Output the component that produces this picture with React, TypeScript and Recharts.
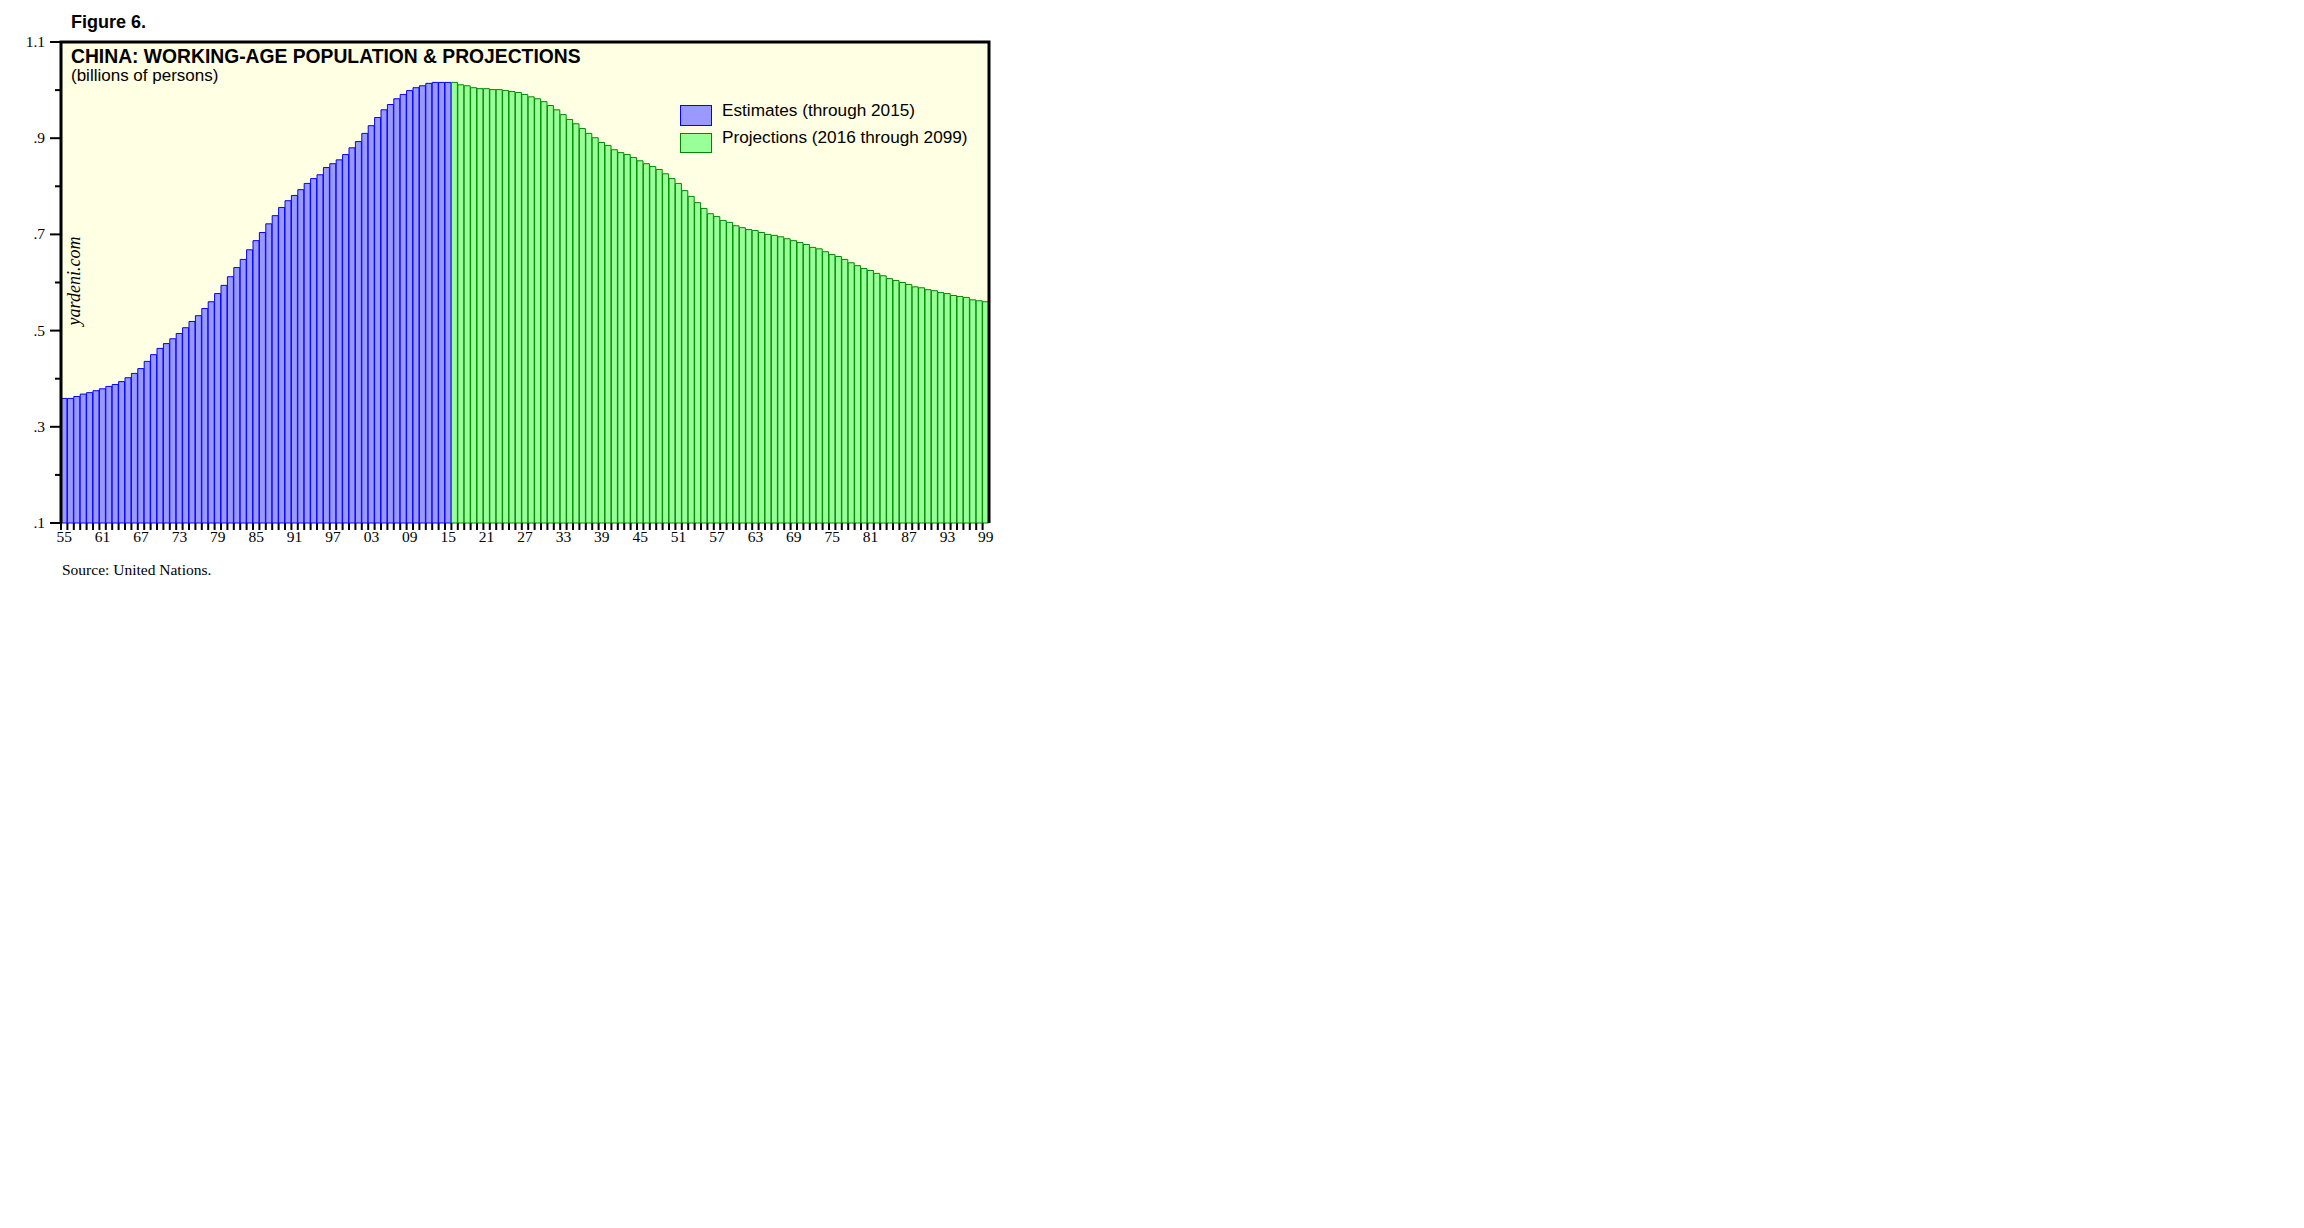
import React from 'react';
import { BarChart, Bar, XAxis, YAxis, Cell, CartesianGrid, ReferenceArea } from 'recharts';

// ---------- data ----------
const FIRST_YEAR = 1955;
const LAST_YEAR = 2099;
const YEARS: number[] = [];
for (let y = FIRST_YEAR; y <= LAST_YEAR; y++) YEARS.push(y);

// Estimates 1955-2015 (billions of persons)
const ESTIMATES = [
  0.359, 0.359, 0.363, 0.368, 0.371, 0.375, 0.379, 0.384, 0.388, 0.394,
  0.402, 0.411, 0.421, 0.436, 0.450, 0.463, 0.473, 0.483, 0.494, 0.506,
  0.519, 0.531, 0.546, 0.560, 0.577, 0.594, 0.612, 0.631, 0.648, 0.668,
  0.687, 0.704, 0.722, 0.739, 0.756, 0.770, 0.781, 0.793, 0.806, 0.816,
  0.824, 0.839, 0.847, 0.855, 0.866, 0.880, 0.893, 0.910, 0.926, 0.943,
  0.959, 0.970, 0.982, 0.991, 0.999, 1.005, 1.009, 1.014, 1.016, 1.016,
  1.016,
];

// Projections 2016-2099
const PROJECTIONS = [
  1.016, 1.011, 1.009, 1.005, 1.003, 1.003, 1.001, 1.001, 0.999, 0.997,
  0.995, 0.991, 0.986, 0.982, 0.976, 0.968, 0.959, 0.949, 0.939, 0.930,
  0.920, 0.910, 0.901, 0.891, 0.885, 0.876, 0.870, 0.866, 0.860, 0.853,
  0.847, 0.841, 0.835, 0.826, 0.816, 0.806, 0.791, 0.779, 0.766, 0.754,
  0.743, 0.737, 0.729, 0.725, 0.718, 0.714, 0.710, 0.708, 0.704, 0.700,
  0.698, 0.695, 0.691, 0.687, 0.683, 0.679, 0.673, 0.670, 0.664, 0.658,
  0.654, 0.648, 0.641, 0.635, 0.629, 0.625, 0.619, 0.614, 0.608, 0.604,
  0.600, 0.596, 0.591, 0.589, 0.585, 0.583, 0.579, 0.577, 0.573, 0.571,
  0.569, 0.564, 0.562, 0.560,
];

const Y_TICKS = [0.1, 0.2, 0.3, 0.4, 0.5, 0.6, 0.7, 0.8, 0.9, 1.0, 1.1];
const Y_MIN = 0.1;
const Y_MAX = 1.1;
const LABEL_EVERY = 6;

const SERIES_NAMES = ['Estimates (through 2015)', 'Projections (2016 through 2099)'];

// ---------- style ----------
const SANS = '"Liberation Sans", Arial, Helvetica, sans-serif';
const SERIF = '"Liberation Serif", "Times New Roman", serif';
const BG = '#FFFFE3';
const BLUE_FILL = '#9999FF';
const BLUE_STROKE = '#0000FF';
const GREEN_FILL = '#99FF99';
const GREEN_STROKE = '#008800';

const CHART_W = 1060;
const CHART_H = 600;
const PLOT_W = 928;
const HALF_BAND = PLOT_W / YEARS.length / 2;

const values = [...ESTIMATES, ...PROJECTIONS];
const data = YEARS.map((year, i) => ({
  year,
  value: values[i],
  range: [Y_MIN, values[i]],
  projected: i >= ESTIMATES.length,
}));

const isMajor = (v: number) => Math.round(v * 10) % 2 === 1;
const fmtY = (v: number) => (v >= 1 ? v.toFixed(1) : '.' + Math.round(v * 10));

const LeftTick = (props: any) => {
  const { x, y, payload } = props;
  const major = isMajor(payload.value);
  return (
    <g>
      <line x1={x - (major ? 11 : 6)} x2={x} y1={y} y2={y} stroke="#000" strokeWidth={2} />
      {major && (
        <text x={x - 16} y={y + 5} textAnchor="end" fontFamily={SERIF} fontSize={15.5} fill="#000">
          {fmtY(payload.value)}
        </text>
      )}
    </g>
  );
};

const RightTick = (props: any) => {
  const { x, y, payload } = props;
  const major = isMajor(payload.value);
  return (
    <g>
      <line x1={x} x2={x + (major ? 11 : 6)} y1={y} y2={y} stroke="#000" strokeWidth={2} />
      {major && (
        <text x={x + 16} y={y + 5} textAnchor="start" fontFamily={SERIF} fontSize={15.5} fill="#000">
          {fmtY(payload.value)}
        </text>
      )}
    </g>
  );
};

const XTick = (props: any) => {
  const { x, y, payload } = props;
  const yr = Number(payload.value);
  const show = (yr - FIRST_YEAR) % LABEL_EVERY === 0;
  return (
    <g>
      <line x1={x - HALF_BAND} x2={x - HALF_BAND} y1={y} y2={y + 7} stroke="#000" strokeWidth={2} />
      {show && (
        <text x={x} y={y + 19} textAnchor="middle" fontFamily={SERIF} fontSize={15.5} fill="#000">
          {String(yr % 100).padStart(2, '0')}
        </text>
      )}
    </g>
  );
};

const Frame = (p: any) => (
  <path
    d={`M${p.x},${p.y + p.height} L${p.x},${p.y} L${p.x + p.width},${p.y} L${p.x + p.width},${p.y + p.height}`}
    fill="none"
    stroke="#000"
    strokeWidth={3}
  />
);

const abs = (left: number, top: number, extra: React.CSSProperties = {}): React.CSSProperties => ({
  position: 'absolute',
  left,
  top,
  lineHeight: 1,
  whiteSpace: 'nowrap',
  color: '#000',
  ...extra,
});

export default function App() {
  return (
    <div style={{ position: 'relative', width: CHART_W + 40, height: CHART_H + 20 }}>
      <BarChart
        width={CHART_W}
        height={CHART_H}
        data={data}
        margin={{ top: 34, right: 19, left: 0, bottom: 55 }}
        barCategoryGap={0}
        barGap={0}
      >
        <CartesianGrid yAxisId="left" horizontal={false} vertical={false} fill={BG} stroke="none" />
        <XAxis
          dataKey="year"
          type="category"
          interval={0}
          height={30}
          axisLine={false}
          tickLine={false}
          tickSize={0}
          tickMargin={0}
          tick={<XTick />}
        />
        <YAxis
          yAxisId="left"
          orientation="left"
          width={53}
          domain={[Y_MIN, Y_MAX]}
          ticks={Y_TICKS}
          interval={0}
          axisLine={false}
          tickLine={false}
          tickSize={0}
          tickMargin={0}
          tick={<LeftTick />}
        />
        <YAxis
          yAxisId="right"
          orientation="right"
          width={60}
          domain={[Y_MIN, Y_MAX]}
          ticks={Y_TICKS}
          interval={0}
          axisLine={false}
          tickLine={false}
          tickSize={0}
          tickMargin={0}
          tick={<RightTick />}
        />
        <Bar yAxisId="left" dataKey="range" isAnimationActive={false} strokeWidth={1}>
          {data.map((d) => (
            <Cell
              key={d.year}
              fill={d.projected ? GREEN_FILL : BLUE_FILL}
              stroke={d.projected ? GREEN_STROKE : BLUE_STROKE}
            />
          ))}
        </Bar>
        <ReferenceArea yAxisId="left" y1={Y_MIN} y2={Y_MAX} shape={<Frame />} ifOverflow="visible" zIndex={1000} />
      </BarChart>

      <div style={abs(63, 5, { fontFamily: SANS, fontWeight: 'bold', fontSize: 18 })}>Figure 6.</div>
      <div style={abs(63, 38.5, { fontFamily: SANS, fontWeight: 'bold', fontSize: 19.3 })}>
        CHINA: WORKING-AGE POPULATION &amp; PROJECTIONS
      </div>
      <div style={abs(63, 58.5, { fontFamily: SANS, fontSize: 17 })}>(billions of persons)</div>

      <div
        style={abs(66, 273, {
          fontFamily: SERIF,
          fontStyle: 'italic',
          fontSize: 18,
          transform: 'translate(-50%, -50%) rotate(-90deg)',
        })}
      >
        yardeni.com
      </div>

      {/* legend */}
      <div style={abs(672, 96.5, { width: 30, height: 19, background: BLUE_FILL, border: `1.5px solid ${BLUE_STROKE}` })} />
      <div style={abs(714, 94.3, { fontFamily: SANS, fontSize: 17.2 })}>{SERIES_NAMES[0]}</div>
      <div style={abs(672, 124.5, { width: 30, height: 18, background: GREEN_FILL, border: `1.5px solid ${GREEN_STROKE}` })} />
      <div style={abs(714, 121.1, { fontFamily: SANS, fontSize: 17.2 })}>{SERIES_NAMES[1]}</div>

      <div style={abs(54, 554.4, { fontFamily: SERIF, fontSize: 15.5 })}>Source: United Nations.</div>
    </div>
  );
}
